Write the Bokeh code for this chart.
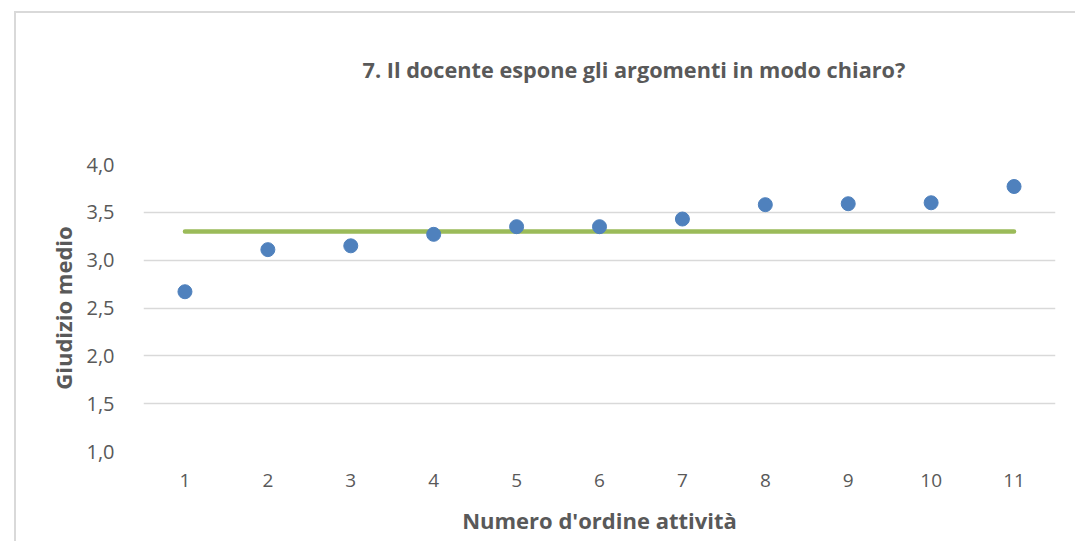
from bokeh.plotting import figure
from bokeh.models import Range1d, FixedTicker, CustomJSTickFormatter, Title
from bokeh.embed import file_html
from bokeh.resources import INLINE

# Data
attivita = [1, 2, 3, 4, 5, 6, 7, 8, 9, 10, 11]
giudizio = [2.67, 3.11, 3.15, 3.27, 3.35, 3.35, 3.43, 3.58, 3.59, 3.60, 3.77]
media = [3.30, 3.30, 3.30, 3.30, 3.30, 3.30, 3.30, 3.30, 3.30, 3.30, 3.30]
y_ticks = [1.0, 1.5, 2.0, 2.5, 3.0, 3.5, 4.0]

title_text = "7. Il docente espone gli argomenti in modo chiaro?"
x_label = "Numero d'ordine attività"
y_label = "Giudizio medio"

TXT = "#595959"
GRID = "#D9D9D9"
FONT = "Open Sans"

p = figure(width=1061, height=530, output_backend="svg", toolbar_location=None,
           x_range=Range1d(0.5, 11.5), y_range=Range1d(1.0, 4.0),
           min_border_left=127, min_border_right=22, min_border_top=151, min_border_bottom=92)
p.margin = (11, 0, 0, 14)
p.styles = {"border-top": "2px solid #D9D9D9", "border-left": "2px solid #D9D9D9"}
p.outline_line_color = None
p.background_fill_color = "white"
p.border_fill_color = "white"
p.title.text = ""
p.title.standoff = 0

# spacer between frame and title, then the title itself
spacer = Title(text=" ", standoff=78, text_font_size="1px")
p.add_layout(spacer, "above")
main_title = Title(text=title_text, align="left", offset=219, standoff=0,
                   text_font=FONT, text_font_size="21.7px", text_font_style="bold",
                   text_color=TXT)
p.add_layout(main_title, "above")

# grid
p.xgrid.grid_line_color = None
p.ygrid.grid_line_color = GRID
p.ygrid.grid_line_width = 1.5
p.yaxis.ticker = FixedTicker(ticks=y_ticks)
p.xaxis.ticker = FixedTicker(ticks=attivita)
p.yaxis.formatter = CustomJSTickFormatter(code="return tick.toFixed(1).replace('.', ',');")

for ax in (p.xaxis, p.yaxis):
    ax.axis_line_color = None
    ax.major_tick_line_color = None
    ax.minor_tick_line_color = None
    ax.major_label_text_color = TXT
    ax.major_label_text_font = FONT
    ax.major_label_text_font_size = "19px"
    ax.axis_label_text_color = TXT
    ax.axis_label_text_font = FONT
    ax.axis_label_text_font_size = "22px"
    ax.axis_label_text_font_style = "bold"

p.yaxis.major_label_text_font_size = "20px"
p.yaxis.major_label_standoff = 23
p.xaxis.major_label_standoff = 16
p.xaxis.axis_label = x_label
p.yaxis.axis_label = y_label
p.yaxis.axis_label_standoff = 5
p.xaxis.axis_label_standoff = 15

# average line
p.line(attivita, media, line_color="#9BBB59", line_width=4.5, line_cap="round")
# points
p.scatter(attivita, giudizio, size=14, fill_color="#4F81BD", line_color="#4F81BD")

open("out.html", "w").write(file_html(p, INLINE))
